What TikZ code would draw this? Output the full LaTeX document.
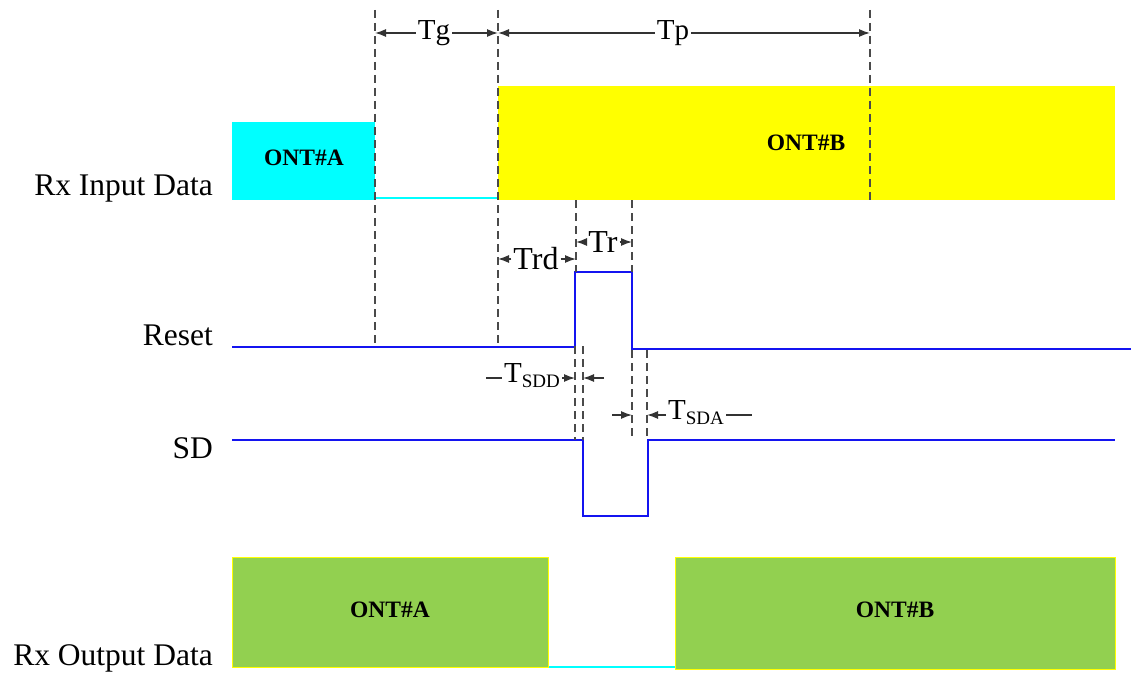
\documentclass[tikz,border=0pt]{standalone}
\usepackage{fontspec}
\setmainfont{Liberation Serif}
\usetikzlibrary{arrows.meta,positioning,calc}
\definecolor{sigblue}{HTML}{1414F0}
\definecolor{rxcyan}{HTML}{00FFFF}
\definecolor{rxyellow}{HTML}{FFFF00}
\definecolor{rxgreen}{HTML}{92D050}
\definecolor{guidegray}{HTML}{4A4A4A}
\newcommand{\lowsub}[1]{\raisebox{-5pt}{\fontsize{19}{20}\selectfont #1}}

\begin{document}
\begin{tikzpicture}[x=1pt,y=-1pt,
 lbl/.style={anchor=base east,inner sep=0pt,font=\fontsize{31.5}{34}\selectfont},
 ont/.style={inner sep=0pt,font=\fontsize{23.5}{26}\selectfont\bfseries},
 tlabel/.style={inner sep=2pt,font=\fontsize{29}{32}\selectfont},
 guide/.style={guidegray,dash pattern=on 8pt off 5pt,line width=1.3pt},
 sig/.style={sigblue,line width=2.8pt},
 idle/.style={rxcyan,line width=2.6pt},
 dimarrow/.style={black!80,line width=1.3pt,-{Latex[length=11pt,width=8pt]}}]
\useasboundingbox (0,0) rectangle (1131,674);
% signal names
\node[lbl] (rxin) at (213,195) {Rx Input Data};
\node[lbl] (rst) at (213,345) {Reset};
\node[lbl] (sd) at (213,458) {SD};
\node[lbl] (rxout) at (213,665) {Rx Output Data};
% rx input data
\fill[rxcyan] (232,122) rectangle (375,200);
\fill[rxyellow] (498,86) rectangle (1115,200);
\draw[idle] (375,198) -- (498,198);
\node[ont] (inA) at (304,158) {ONT\#A};
\node[ont] (inB) at (806,143) {ONT\#B};
% rx output data
\filldraw[fill=rxgreen,draw=rxyellow,line width=1pt] (232,557) rectangle (548,667);
\filldraw[fill=rxgreen,draw=rxyellow,line width=1pt] (675,557) rectangle (1115,669);
\draw[idle] (549,667) -- (675,667);
\node[ont] (outA) at (390,610) {ONT\#A};
\node[ont] (outB) at (895,610) {ONT\#B};
% reset and sd
\draw[sig] (232,347) -- (575,347) -- (575,272) -- (632,272) -- (632,349) -- (1131,349);
\draw[sig] (232,440) -- (583,440) -- (583,516) -- (648,516) -- (648,440) -- (1115,440);
% guides
\draw[guide] (375,10) -- (375,345);
\draw[guide] (498,10) -- (498,345);
\draw[guide] (870,10) -- (870,200);
\draw[guide] (576,200) -- (576,272);
\draw[guide] (632,200) -- (632,272);
\draw[guide] (575,346) -- (575,440);
\draw[guide] (583,346) -- (583,440);
\draw[guide] (632,350) -- (632,438);
\draw[guide] (647,350) -- (647,438);
% timings
\coordinate (g1) at (375,33);
\coordinate (g2) at (498,33);
\coordinate (p2) at (870,33);
\node[tlabel,fill=white] (tg) at (434,33) {Tg};
\node[tlabel,fill=white] (tp) at (673,33) {Tp};
\draw[dimarrow] (tg) -- (g1);
\draw[dimarrow] (tg) -- (g2);
\draw[dimarrow] (tp) -- (g2);
\draw[dimarrow] (tp) -- (p2);
\coordinate (rd1) at (498,259);
\coordinate (rd2) at (576,259);
\node[tlabel,font=\fontsize{32}{34}\selectfont] (trd) at (536,259) {Trd};
\draw[dimarrow] (trd) -- (rd1);
\draw[dimarrow] (trd) -- (rd2);
\coordinate (r1) at (576,242);
\coordinate (r2) at (632,242);
\node[tlabel,font=\fontsize{32}{34}\selectfont] (tr) at (603,242) {Tr};
\draw[dimarrow] (tr) -- (r1);
\draw[dimarrow] (tr) -- (r2);
\coordinate (dd1) at (575,378);
\coordinate (dd2) at (583,378);
\coordinate (dd3) at (604,378);
\coordinate (dd0) at (486,378);
\node[tlabel,anchor=east] (tsdd) at (562,376) {T\lowsub{SDD}};
\draw[dimarrow] (tsdd.east|-dd1) -- (dd1);
\draw[dimarrow] (dd3) -- (dd2);
\draw[black!80,line width=1.3pt] (tsdd.west|-dd0) -- (dd0);
\coordinate (da1) at (612,415);
\coordinate (da2) at (632,415);
\coordinate (da3) at (647,415);
\coordinate (da4) at (752,415);
\node[tlabel,anchor=west] (tsda) at (666,413) {T\lowsub{SDA}};
\draw[dimarrow] (da1) -- (da2);
\draw[dimarrow] (tsda.west|-da3) -- (da3);
\draw[black!80,line width=1.3pt] (tsda.east|-da4) -- (da4);
\end{tikzpicture}
\end{document}
